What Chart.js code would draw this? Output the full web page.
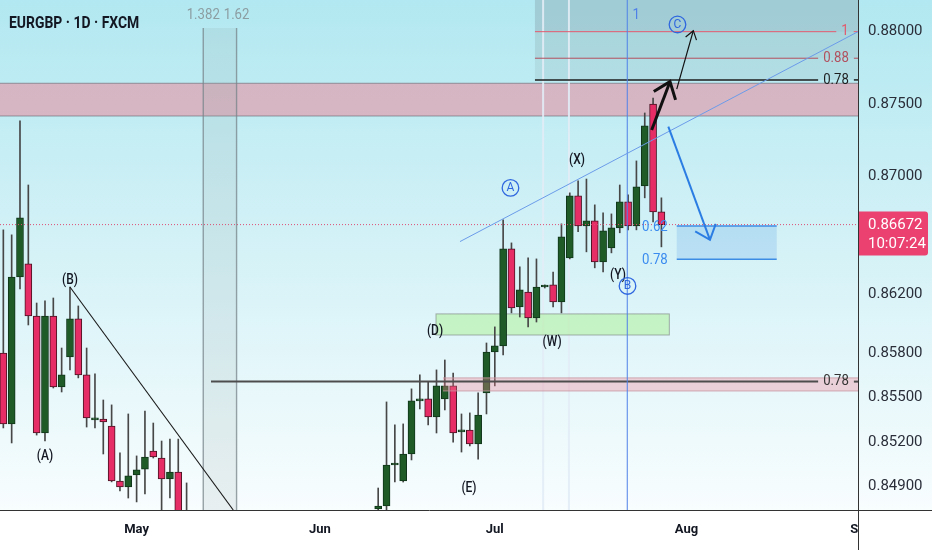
<!DOCTYPE html>
<html>
<head>
<meta charset="utf-8">
<style>
html, body { margin: 0; padding: 0; background: #fff; }
#wrap { width: 932px; height: 550px; }
</style>
<script src="https://cdn.jsdelivr.net/npm/chart.js@4.4.1/dist/chart.umd.min.js"></script>
</head>
<body>
<div id="wrap"><canvas id="grafico" width="932" height="550"></canvas></div>
<script>
// x = trading day index, 0 = 9 Apr 2025
const monthLabels = ['May', 'Jun', 'Jul', 'Aug', 'Sep'];
const monthStart = [16, 38, 59, 82, 103];
const priceTicks = [0.849, 0.852, 0.855, 0.858, 0.862, 0.870, 0.875, 0.880];
const lastPrice = 0.86672;
const countdown = '10:07:24';

const opens = [
  0.85799, 0.85321, 0.86315, 0.86404, 0.86050, 0.85260, 0.86050, 0.85570, 0.85772, 0.86030,
  0.85651, 0.85348, 0.85354, 0.85307, 0.84938, 0.84898, 0.84978, 0.85018, 0.85139, 0.85092,
  0.84952, 0.84998, 0.84610, null, null, null, null, null, null, null,
  null, null, null, null, null, null, null, null, null, null,
  null, null, null, null, null, 0.84751, 0.84771, 0.85045, 0.84938, 0.85119,
  0.85476, 0.85489, 0.85368, 0.85489, 0.85577, 0.85267, 0.85280, 0.85186, 0.85530, 0.85806,
  0.85847, 0.86506, 0.86111, 0.86213, 0.86037, 0.86247, 0.86261, 0.86145, 0.86445, 0.86868,
  0.86663, 0.86698, 0.86418, 0.86513, 0.86650, 0.86827, 0.86663, 0.86937, 0.87500, 0.86759
];
const highs = [
  0.86636, 0.86602, 0.87383, 0.86943, 0.86138, 0.86152, 0.86172, 0.85833, 0.86247, 0.86118,
  0.85833, 0.85658, 0.85482, 0.85449, 0.85126, 0.85388, 0.85106, 0.85408, 0.85327, 0.85206,
  0.85219, 0.85219, 0.84925, null, null, null, null, null, null, null,
  null, null, null, null, null, null, null, null, null, null,
  null, null, null, null, null, 0.84891, 0.85469, 0.85314, 0.85321, 0.85557,
  0.85651, 0.85604, 0.85685, 0.85752, 0.85664, 0.85388, 0.85395, 0.85530, 0.85867, 0.85976,
  0.86704, 0.86547, 0.86384, 0.86445, 0.86438, 0.86261, 0.86349, 0.86677, 0.86889, 0.86971,
  0.86984, 0.86807, 0.86752, 0.86745, 0.86943, 0.86875, 0.87108, 0.87438, 0.87541, 0.86855
];
const lows = [
  0.85294, 0.85193, 0.86233, 0.85989, 0.85246, 0.85206, 0.85563, 0.85536, 0.85685, 0.85631,
  0.85300, 0.85294, 0.85119, 0.84932, 0.84871, 0.84824, 0.84798, 0.84851, 0.85092, 0.84711,
  0.84824, 0.84543, 0.84300, null, null, null, null, null, null, null,
  null, null, null, null, null, null, null, null, null, null,
  null, null, null, null, null, 0.84724, 0.84744, 0.84931, 0.84931, 0.85079,
  0.85422, 0.85314, 0.85260, 0.85415, 0.85199, 0.85132, 0.85173, 0.85085, 0.85388, 0.85577,
  0.85786, 0.86071, 0.86043, 0.85976, 0.86009, 0.86240, 0.86111, 0.86071, 0.86438, 0.86623,
  0.86486, 0.86377, 0.86350, 0.86479, 0.86616, 0.86636, 0.86636, 0.86855, 0.86691, 0.86520
];
const closes = [
  0.85321, 0.86315, 0.86718, 0.86050, 0.85260, 0.86050, 0.85570, 0.85651, 0.86030, 0.85651,
  0.85361, 0.85361, 0.85334, 0.84938, 0.84898, 0.84972, 0.85012, 0.85099, 0.85099, 0.84952,
  0.84998, 0.84610, 0.84400, null, null, null, null, null, null, null,
  null, null, null, null, null, null, null, null, null, null,
  null, null, null, null, null, 0.84771, 0.85045, 0.85052, 0.85119, 0.85476,
  0.85489, 0.85368, 0.85577, 0.85577, 0.85260, 0.85280, 0.85186, 0.85381, 0.85806, 0.85847,
  0.86506, 0.86104, 0.86227, 0.86037, 0.86247, 0.86254, 0.86145, 0.86588, 0.86868, 0.86663,
  0.86698, 0.86418, 0.86629, 0.86650, 0.86827, 0.86663, 0.86930, 0.87349, 0.86759, 0.86672
];

// drawings, in (day index, price)
const resistZone = [0.87643, 0.87417];
const lowZone = { from: 52.78, top: 0.85631, bottom: 0.85543 };
const greenZone = { from: 51.94, to: 79.95, top: 0.86064, bottom: 0.85921 };
const targetZone = { from: 80.84, to: 92.84, top: 0.86663, bottom: 0.86436 };
const fibFrom = 63.82;
const fibLevels = [
  { label: '1', price: 0.88000, at: 101.04, color: '#e25a6d' },
  { label: '0.88', price: 0.87816, at: 99.96, color: '#b24f5d' },
  { label: '0.78', price: 0.87666, at: 99.96, color: '#1d1d1d' }
];
const level78 = { from: 24.93, price: 0.85606, at: 99.96 };
const timeZones = [{ i: 24, label: '1.382' }, { i: 28, label: '1.62' }];
const cycleLine = { i: 74.9, label: '1' };
const faintLines = [64.8, 67.9];
const trendLine = [[54.82, 0.86556], [102.6, 0.88000]];
const fallLine = [[8.0, 0.86247], [27.6, 0.84744]];
const blueArrow = [[79.83, 0.87344], [84.83, 0.86568]];
const boldArrow = [[77.83, 0.87321], [80.03, 0.87654]];
const thinArrow = [[80.84, 0.87602], [82.83, 0.88007]];
const waveLabels = [
  ['(A)', 5.0, 0.85106], ['(B)', 8.0, 0.86295], ['(D)', 51.82, 0.85948], ['(E)', 55.9, 0.84891],
  ['(W)', 65.87, 0.85874], ['(X)', 68.87, 0.87115], ['(Y)', 73.79, 0.86329]
];
const circleLabels = [['A', 60.88, 0.86923], ['B', 74.93, 0.86254], ['C', 80.93, 0.88050]];
const retraceLabels = [['0.62', 76.67, 0.86663], ['0.78', 76.67, 0.86436]];

const upColor = '#1e5b27';
const downColor = '#e62d66';

const wicks = [];
const bodies = [];
opens.forEach((o, i) => {
  if (o === null) return;
  wicks.push({ x: i, y: [lows[i], highs[i]] });
  bodies.push({ x: i, y: [Math.min(o, closes[i]), Math.max(o, closes[i])] });
});
const isUp = c => c.raw && closes[c.raw.x] >= opens[c.raw.x];

function text(ctx, s, x, y, font, color, align, sx) {
  ctx.save();
  ctx.translate(x, y);
  ctx.scale(sx || 1, 1);
  ctx.font = font;
  ctx.fillStyle = color;
  ctx.textAlign = align || 'center';
  ctx.textBaseline = 'middle';
  ctx.fillText(s, 0, 0);
  ctx.restore();
}

function seg(ctx, x0, y0, x1, y1, color, w) {
  ctx.beginPath();
  ctx.moveTo(x0, y0);
  ctx.lineTo(x1, y1);
  ctx.strokeStyle = color;
  ctx.lineWidth = w;
  ctx.stroke();
}

function arrow(ctx, x0, y0, x1, y1, color, w, len, ang) {
  seg(ctx, x0, y0, x1, y1, color, w);
  const a = Math.atan2(y0 - y1, x0 - x1);
  ctx.beginPath();
  ctx.moveTo(x1 + len * Math.cos(a + ang), y1 + len * Math.sin(a + ang));
  ctx.lineTo(x1, y1);
  ctx.lineTo(x1 + len * Math.cos(a - ang), y1 + len * Math.sin(a - ang));
  ctx.strokeStyle = color;
  ctx.lineWidth = w;
  ctx.lineJoin = 'miter';
  ctx.stroke();
}

const drawings = {
  id: 'drawings',
  beforeDraw(chart) {
    const ctx = chart.ctx;
    const a = chart.chartArea;
    const g = ctx.createLinearGradient(0, 0, 0, a.bottom);
    g.addColorStop(0, '#b2e8f1');
    g.addColorStop(0.5, '#d5f2f7');
    g.addColorStop(1, '#f8fdfe');
    ctx.save();
    ctx.fillStyle = '#ffffff';
    ctx.fillRect(0, 0, chart.width, chart.height);
    ctx.fillStyle = g;
    ctx.fillRect(0, 0, chart.width, a.bottom);
    ctx.restore();
  },
  beforeDatasetsDraw(chart) {
    const ctx = chart.ctx, a = chart.chartArea;
    const X = v => chart.scales.x.getPixelForValue(v);
    const Y = v => chart.scales.y.getPixelForValue(v);
    ctx.save();
    ctx.beginPath();
    ctx.rect(a.left, a.top, a.width, a.height);
    ctx.clip();

    // fib retracement background
    const fx = X(fibFrom);
    ctx.fillStyle = 'rgba(110,125,135,0.26)';
    ctx.fillRect(fx, a.top, a.right - fx, Y(fibLevels[0].price) - a.top);
    ctx.fillStyle = 'rgba(110,125,135,0.19)';
    ctx.fillRect(fx, Y(fibLevels[0].price), a.right - fx, Y(fibLevels[1].price) - Y(fibLevels[0].price));
    ctx.fillStyle = 'rgba(110,125,135,0.12)';
    ctx.fillRect(fx, Y(fibLevels[1].price), a.right - fx, Y(fibLevels[2].price) - Y(fibLevels[1].price));

    // resistance zone
    const r0 = Y(resistZone[0]), r1 = Y(resistZone[1]);
    ctx.fillStyle = 'rgba(238,128,148,0.5)';
    ctx.fillRect(a.left, r0, a.width, r1 - r0);
    seg(ctx, a.left, r0, a.right, r0, 'rgba(90,90,95,0.55)', 1);
    seg(ctx, a.left, r1, a.right, r1, 'rgba(90,90,95,0.55)', 1);

    // fib time zones
    const t0 = X(timeZones[0].i), t1 = X(timeZones[1].i);
    ctx.fillStyle = 'rgba(150,165,170,0.16)';
    ctx.fillRect(t0, 28, t1 - t0, a.bottom - 28);
    timeZones.forEach(t => seg(ctx, X(t.i), 28, X(t.i), a.bottom, 'rgba(120,132,138,0.75)', 1.4));

    faintLines.forEach(v => seg(ctx, X(v), a.top, X(v), a.bottom, 'rgba(226,236,246,0.9)', 2));

    // demand zone
    const g0 = Y(greenZone.top), g1 = Y(greenZone.bottom);
    ctx.fillStyle = 'rgba(175,240,155,0.55)';
    ctx.fillRect(X(greenZone.from), g0, X(greenZone.to) - X(greenZone.from), g1 - g0);
    ctx.strokeStyle = 'rgba(120,125,125,0.6)';
    ctx.lineWidth = 1;
    ctx.strokeRect(X(greenZone.from), g0, X(greenZone.to) - X(greenZone.from), g1 - g0);

    // target zone
    const b0 = Y(targetZone.top), b1 = Y(targetZone.bottom);
    ctx.fillStyle = 'rgba(120,180,235,0.3)';
    ctx.fillRect(X(targetZone.from), b0, X(targetZone.to) - X(targetZone.from), b1 - b0);
    seg(ctx, X(targetZone.from), b0, X(targetZone.to), b0, '#3c8ce6', 1.5);
    seg(ctx, X(targetZone.from), b1, X(targetZone.to), b1, '#3c8ce6', 1.5);
    ctx.restore();
  },
  afterDatasetsDraw(chart) {
    const ctx = chart.ctx, a = chart.chartArea;
    const X = v => chart.scales.x.getPixelForValue(v);
    const Y = v => chart.scales.y.getPixelForValue(v);
    ctx.save();
    ctx.beginPath();
    ctx.rect(a.left, a.top, a.width, a.height);
    ctx.clip();

    // lower zone over the candles
    const l0 = Y(lowZone.top), l1 = Y(lowZone.bottom);
    ctx.fillStyle = 'rgba(240,130,150,0.33)';
    ctx.fillRect(X(lowZone.from), l0, a.right - X(lowZone.from), l1 - l0);
    seg(ctx, X(lowZone.from), l0, a.right, l0, 'rgba(200,150,160,0.8)', 1);
    seg(ctx, X(lowZone.from), l1, a.right, l1, 'rgba(200,150,160,0.8)', 1);

    // last price dotted line
    const lp = Y(lastPrice);
    ctx.save();
    ctx.setLineDash([1, 2]);
    seg(ctx, a.left, lp, a.right, lp, '#dd4f73', 1);
    ctx.restore();

    // fib levels with their labels
    const lf = '15px Roboto';
    ctx.font = lf;
    fibLevels.forEach(f => {
      const y = Y(f.price), cx = X(f.at);
      const hw = ctx.measureText(f.label).width * 0.88 / 2 + 5;
      seg(ctx, X(fibFrom), y, cx - hw, y, f.color, f.label === '0.78' ? 1.5 : 1);
      seg(ctx, cx + hw, y, a.right, y, f.color, f.label === '0.78' ? 1.5 : 1);
      text(ctx, f.label, cx, y, lf, f.color, 'center', 0.88);
    });
    const y78 = Y(level78.price), c78 = X(level78.at);
    const hw78 = ctx.measureText('0.78').width * 0.88 / 2 + 5;
    seg(ctx, X(level78.from), y78, c78 - hw78, y78, '#4d4d4d', 2);
    seg(ctx, c78 + hw78, y78, a.right, y78, '#4d4d4d', 2);
    text(ctx, '0.78', c78, y78, lf, '#333333', 'center', 0.88);

    // lines
    seg(ctx, X(cycleLine.i), a.top, X(cycleLine.i), a.bottom, '#4f80e8', 1);
    seg(ctx, X(trendLine[0][0]), Y(trendLine[0][1]), X(trendLine[1][0]), Y(trendLine[1][1]), '#6b9be9', 1);
    seg(ctx, X(fallLine[0][0]), Y(fallLine[0][1]), X(fallLine[1][0]), Y(fallLine[1][1]), '#1a1a1a', 1.1);

    // arrows
    arrow(ctx, X(blueArrow[0][0]), Y(blueArrow[0][1]), X(blueArrow[1][0]), Y(blueArrow[1][1]), '#2b7de3', 2, 17, 0.7);
    arrow(ctx, X(boldArrow[0][0]), Y(boldArrow[0][1]), X(boldArrow[1][0]), Y(boldArrow[1][1]), '#111111', 3, 19, 0.66);
    arrow(ctx, X(thinArrow[0][0]), Y(thinArrow[0][1]), X(thinArrow[1][0]), Y(thinArrow[1][1]), '#111111', 1.2, 10, 0.6);

    // labels
    timeZones.forEach(t => text(ctx, t.label, X(t.i), 15, lf, '#8c9da1', 'center', 0.88));
    text(ctx, cycleLine.label, X(cycleLine.i) + 9, 15, lf, '#4f80e8', 'center', 0.88);
    retraceLabels.forEach(r => text(ctx, r[0], X(r[1]), Y(r[2]) + 1, lf, '#3a8bef', 'left', 0.88));
    waveLabels.forEach(w => text(ctx, w[0], X(w[1]), Y(w[2]), '500 15px Roboto', '#131722', 'center', 0.8));
    circleLabels.forEach(c => {
      const x = X(c[1]), y = Y(c[2]);
      ctx.beginPath();
      ctx.arc(x, y, 8.3, 0, Math.PI * 2);
      ctx.strokeStyle = '#2f67df';
      ctx.lineWidth = 1.3;
      ctx.stroke();
      text(ctx, c[0], x, y + 0.5, '12px Roboto', '#2f67df', 'center', 1);
    });
    ctx.restore();
  },
  afterDraw(chart) {
    const ctx = chart.ctx, a = chart.chartArea;
    const Y = v => chart.scales.y.getPixelForValue(v);
    ctx.save();
    // hide the part of the last month label under the price axis
    ctx.fillStyle = '#ffffff';
    ctx.fillRect(a.right + 0.5, a.bottom + 0.5, chart.width - a.right, chart.height - a.bottom);
    seg(ctx, a.right, a.bottom + 0.5, chart.width, a.bottom + 0.5, '#333333', 1);
    seg(ctx, a.right + 0.5, 0, a.right + 0.5, chart.height, '#333333', 1);

    // last price tag
    const lp = Y(lastPrice);
    ctx.fillStyle = '#ea4171';
    ctx.beginPath();
    ctx.roundRect(a.right + 1, lp - 13, 69, 44, [0, 3, 3, 0]);
    ctx.fill();
    text(ctx, lastPrice.toFixed(5), a.right + 10, lp + 1, '15px Roboto', '#ffffff', 'left', 1);
    text(ctx, countdown, a.right + 10, lp + 20, '15px Roboto', '#ffffff', 'left', 1);

    text(ctx, 'EURGBP · 1D · FXCM', 9, 24, 'bold 17px Roboto', '#131722', 'left', 0.82);
    ctx.restore();
  }
};

Chart.defaults.font.family = 'Roboto';

new Chart(document.getElementById('grafico'), {
  type: 'bar',
  data: {
    datasets: [
      {
        data: bodies,
        grouped: false,
        order: 0,
        barThickness: 7,
        minBarLength: 2,
        borderWidth: 1,
        borderSkipped: false,
        backgroundColor: c => isUp(c) ? upColor : downColor,
        borderColor: c => isUp(c) ? '#10351a' : '#4a1424'
      },
      {
        data: wicks,
        grouped: false,
        order: 1,
        barThickness: 1,
        borderWidth: 0,
        backgroundColor: '#474747'
      }
    ]
  },
  options: {
    responsive: false,
    animation: false,
    devicePixelRatio: 1,
    layout: { padding: 0 },
    plugins: { legend: { display: false }, tooltip: { enabled: false } },
    scales: {
      x: {
        type: 'linear',
        offset: false,
        min: -0.4,
        max: 102.6,
        grid: { display: false, drawTicks: false },
        border: { display: true, color: '#333333', width: 1 },
        afterBuildTicks: s => { s.ticks = monthStart.map(v => ({ value: v })); },
        afterFit: s => { s.height = 40; s.paddingLeft = 0; s.paddingRight = 0; },
        ticks: {
          autoSkip: false,
          maxRotation: 0,
          padding: 12,
          color: '#131722',
          font: { size: 13, weight: 'bold' },
          callback: v => monthLabels[monthStart.indexOf(v)]
        }
      },
      y: {
        type: 'logarithmic',
        position: 'right',
        min: 0.84744,
        max: 0.88220,
        grid: { display: false, drawTicks: false },
        border: { display: true, color: '#333333', width: 1 },
        afterBuildTicks: s => { s.ticks = priceTicks.map(v => ({ value: v })); },
        afterFit: s => { s.width = 74; s.paddingTop = 0; s.paddingBottom = 0; },
        ticks: {
          padding: 10,
          color: '#2a2e39',
          font: { size: 15 },
          callback: v => Number(v).toFixed(5)
        }
      }
    }
  },
  plugins: [drawings]
});
</script>
</body>
</html>
